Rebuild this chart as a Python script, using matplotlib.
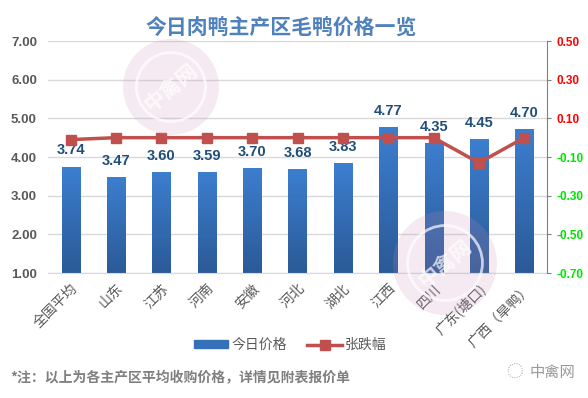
import numpy as np
import matplotlib
matplotlib.use('Agg')
import matplotlib.pyplot as plt
from matplotlib.colors import LinearSegmentedColormap
from matplotlib.patches import Patch, Circle
from matplotlib.lines import Line2D

plt.rcParams['font.family'] = ['Noto Sans CJK SC', 'DejaVu Sans']

# data
regions = ['全国平均', '山东', '江苏', '河南', '安徽', '河北', '湖北', '江西', '四川', '广东(塘口)', '广西（旱鸭）']
price = [3.74, 3.47, 3.60, 3.59, 3.70, 3.68, 3.83, 4.77, 4.35, 4.45, 4.70]
change = [-0.01, 0.00, 0.00, 0.00, 0.00, 0.00, 0.00, 0.00, 0.00, -0.13, 0.00]
left_ticks = [1.00, 2.00, 3.00, 4.00, 5.00, 6.00, 7.00]
right_ticks = [-0.70, -0.50, -0.30, -0.10, 0.10, 0.30, 0.50]

num_font = ['Liberation Sans', 'DejaVu Sans']

fig = plt.figure(figsize=(5.88, 3.98), dpi=100)
ax = fig.add_axes([48/588, 1-273/398, (547-48)/588, (273-41)/398])

x = np.arange(len(regions))
w = 0.4
cmap = LinearSegmentedColormap.from_list('bar', ['#2b5a97', '#3c7ecf'])
grad = np.linspace(0, 1, 100).reshape(-1, 1)
for i, v in enumerate(price):
    ax.imshow(grad, extent=(i - w/2, i + w/2, 1, v), origin='lower', cmap=cmap,
              aspect='auto', zorder=2)
    ax.annotate(f'{v:.2f}', (i, v), xytext=(0, 7), textcoords='offset points',
                ha='center', va='bottom', color='#1f4e79', fontsize=10.5,
                fontweight='bold', family=num_font, zorder=4)

ax.set_xlim(-0.5, len(regions) - 0.5)
ax.set_ylim(1, 7)
ax.set_yticks(left_ticks)
ax.set_yticklabels([f'{t:.2f}' for t in left_ticks], color='#595959',
                   fontweight='bold', fontsize=9.5, family=num_font)
ax.tick_params(axis='y', length=0, pad=8)
ax.set_xticks(x)
ax.set_xticklabels(regions, rotation=45, ha='right', rotation_mode='anchor',
                   color='#595959', fontsize=10)
ax.tick_params(axis='x', length=0, pad=6)
ax.grid(axis='y', color='#d9d9d9', lw=1, zorder=0)
ax.set_axisbelow(True)
for s in ['left', 'right', 'top']:
    ax.spines[s].set_visible(False)
ax.spines['bottom'].set_color('#d9d9d9')

ax2 = ax.twinx()
ax2.plot(x, change, color='#c0504d', lw=2.5, marker='s', markersize=7, zorder=5)
ax2.set_ylim(-0.7, 0.5)
ax2.set_yticks(right_ticks)
ax2.set_yticklabels([f'{t:.2f}' for t in right_ticks], fontweight='bold',
                    fontsize=8.5, family=num_font)
for lab, t in zip(ax2.get_yticklabels(), right_ticks):
    lab.set_color('#ff0000' if t > 0 else '#00e600')
ax2.tick_params(axis='y', length=3, color='#808080', pad=4)
for s in ['left', 'top', 'bottom']:
    ax2.spines[s].set_visible(False)
ax2.spines['right'].set_color('#808080')

fig.text(281/588, 1-28/398, '今日肉鸭主产区毛鸭价格一览', ha='center', va='center',
         fontsize=15, fontweight='bold', color='#4f81bd')

handles = [Patch(facecolor='#3570b8', edgecolor='#3570b8'),
           Line2D([], [], color='#c0504d', lw=2.5, marker='s', markersize=7)]
fig.legend(handles, ['今日价格', '张跌幅'], loc='center', ncol=2, frameon=False,
           bbox_to_anchor=(290/588, 1-345/398), fontsize=10, handlelength=2.5,
           handleheight=0.5, labelcolor='#595959', columnspacing=1.5,
           handletextpad=0.2)

fig.text(10/588, 1-378/398, '*注：以上为各主产区平均收购价格，详情见附表报价单',
         ha='left', va='center', fontsize=10, fontweight='bold', color='#7f7f7f')
fig.text(530/588, 1-372/398, '中禽网', ha='left', va='center', fontsize=11,
         color='#9a9a9a')

# watermark overlay
wm = fig.add_axes([0, 0, 1, 1], zorder=10)
wm.set_xlim(0, 588)
wm.set_ylim(398, 0)
wm.axis('off')
for cx, cy, r, rot in [(171, 87, 48, 40), (445, 263, 52, 40)]:
    wm.add_patch(Circle((cx, cy), r, facecolor='#c88fb5', edgecolor='none', alpha=0.18))
    wm.add_patch(Circle((cx, cy), r * 0.72, facecolor='none', edgecolor='white',
                        lw=2, alpha=0.7))
    wm.text(cx, cy, '中禽网', ha='center', va='center', rotation=rot, fontsize=15,
            fontweight='bold', color='white', alpha=0.7)
wm.text(515, 372, '◌', ha='center', va='center', fontsize=12, color='#b0b0b0')

fig.savefig('out.png', dpi=100)
